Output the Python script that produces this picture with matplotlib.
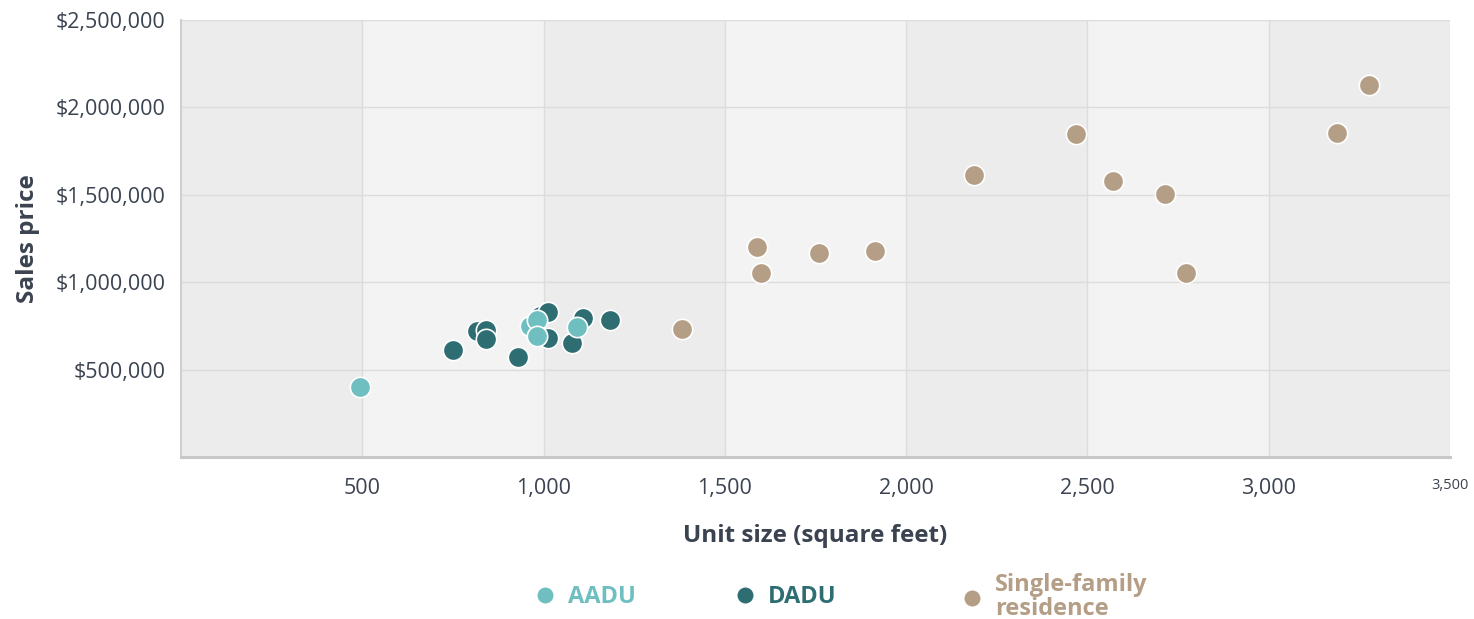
import matplotlib.pyplot as plt
import numpy as np
from matplotlib.lines import Line2D

# data (unit size in sq ft, sales price in $)
aadu_size = [494, 963, 982, 982, 1092]
aadu_price = [400000, 749000, 783000, 691000, 743000]

dadu_size = [750, 816, 841, 841, 929, 990, 1012, 1012, 1109, 1078, 1183]
dadu_price = [611000, 720000, 726000, 674000, 571000, 806000, 829000, 680000, 794000, 651000, 783000]

sfr_size = [1382, 1589, 1600, 1760, 1914, 2187, 2468, 2570, 2714, 2772, 3188, 3277]
sfr_price = [731000, 1200000, 1051000, 1166000, 1177000, 1611000, 1846000, 1577000, 1503000, 1051000, 1851000, 2131000]

x_ticks = [500, 1000, 1500, 2000, 2500, 3000, 3500]
y_ticks = [500000, 1000000, 1500000, 2000000, 2500000]

C_AADU = '#6fbfc1'
C_DADU = '#2e6e72'
C_SFR = '#b59e86'
TXT = '#3b4350'

plt.rcParams['font.family'] = ['Open Sans', 'DejaVu Sans']

fig = plt.figure(figsize=(14.74, 6.19), dpi=100)
ax = fig.add_axes([181 / 1474, 162 / 619, 1269 / 1474, 437 / 619])

ax.set_xlim(0, 3500)
ax.set_ylim(0, 2500000)

# alternating vertical bands
edges = [0] + x_ticks
for i in range(len(edges) - 1):
    ax.axvspan(edges[i], edges[i + 1], color='#ececec' if i % 2 == 0 else '#f3f3f3', lw=0, zorder=0)

ax.grid(True, color='#dcdcdc', lw=1, zorder=1)
ax.set_axisbelow(True)

kw = dict(s=215, edgecolors='white', linewidths=1.2, zorder=3)
ax.scatter(dadu_size, dadu_price, color=C_DADU, **kw)
ax.scatter(aadu_size, aadu_price, color=C_AADU, **kw)
ax.scatter(sfr_size, sfr_price, color=C_SFR, **kw)

ax.set_xticks(x_ticks)
ax.set_xticklabels([f'{v:,}' for v in x_ticks])
ax.set_yticks(y_ticks)
ax.set_yticklabels([f'${v:,}' for v in y_ticks])
ax.tick_params(axis='both', length=0, labelsize=15.5, labelcolor=TXT)
ax.tick_params(axis='x', pad=15)
ax.tick_params(axis='y', pad=11)
ax.get_xticklabels()[-1].set_fontsize(10.5)

for s in ['top', 'right']:
    ax.spines[s].set_visible(False)
ax.spines['left'].set_color('#cfcfcf')
ax.spines['left'].set_linewidth(1.5)
ax.spines['bottom'].set_color('#c8c8c8')
ax.spines['bottom'].set_linewidth(2.2)

ax.set_xlabel('Unit size (square feet)', fontsize=17.5, fontweight='bold', color=TXT, labelpad=18)
ax.set_ylabel('Sales price', fontsize=17.5, fontweight='bold', color=TXT, labelpad=11)

# legend, one entry per box so spacing can follow the reference
entries = [('AADU', C_AADU, 519), ('DADU', C_DADU, 719), ('Single-family\nresidence', C_SFR, 946)]
for label, col, px in entries:
    h = Line2D([], [], marker='o', ls='', markersize=12.5, color=col, markeredgecolor='white')
    leg = fig.legend([h], [label], loc='center left', bbox_to_anchor=(px / 1474, 22 / 619),
                     frameon=False, handletextpad=0.37, borderpad=0, handlelength=1.2,
                     prop={'size': 17, 'weight': 'bold'}, labelspacing=0)
    for t in leg.get_texts():
        t.set_color(col)
        t.set_linespacing(0.95)

fig.savefig('out.png', dpi=100)
